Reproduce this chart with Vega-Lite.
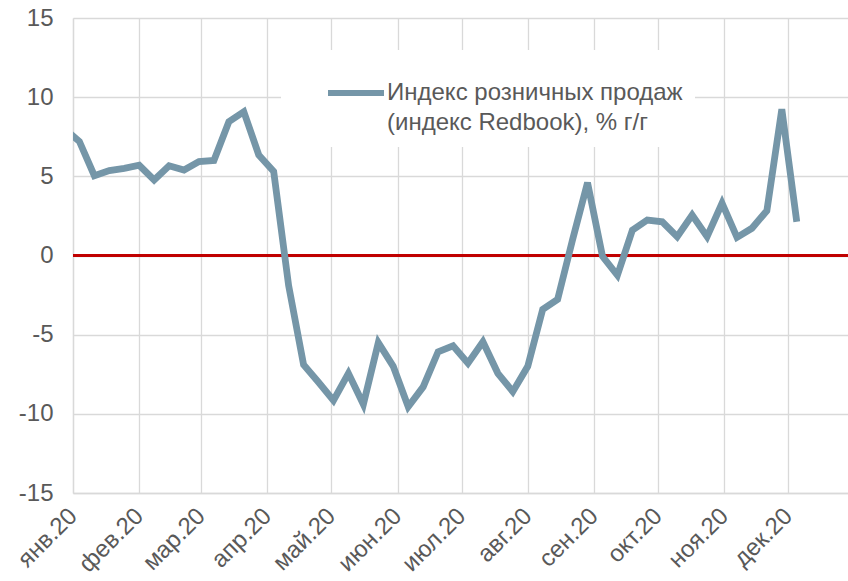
{
  "$schema": "https://vega.github.io/schema/vega-lite/v6.json",
  "autosize": "none",
  "width": 775,
  "height": 475,
  "padding": {"left": 73, "top": 18, "right": 0, "bottom": 88},
  "background": "white",
  "config": {
    "view": {"stroke": null},
    "font": "Liberation Sans",
    "axis": {"labelFont": "Liberation Sans", "labelColor": "#595959", "labelFontSize": 24, "gridColor": "#d9d9d9", "gridWidth": 1.3, "domainColor": "#d9d9d9", "domainWidth": 1.3, "ticks": false, "title": null}
  },
  "data": {
    "values": [
      {"date": "2019/12/28", "value": 8.0},
      {"date": "2020/01/04", "value": 7.2},
      {"date": "2020/01/11", "value": 5.04},
      {"date": "2020/01/18", "value": 5.36},
      {"date": "2020/01/25", "value": 5.5},
      {"date": "2020/02/01", "value": 5.7},
      {"date": "2020/02/08", "value": 4.77},
      {"date": "2020/02/15", "value": 5.67},
      {"date": "2020/02/22", "value": 5.4},
      {"date": "2020/02/29", "value": 5.93},
      {"date": "2020/03/07", "value": 6.0},
      {"date": "2020/03/14", "value": 8.45},
      {"date": "2020/03/21", "value": 9.08},
      {"date": "2020/03/28", "value": 6.35},
      {"date": "2020/04/04", "value": 5.3},
      {"date": "2020/04/11", "value": -1.9},
      {"date": "2020/04/18", "value": -6.9},
      {"date": "2020/04/25", "value": -8.0},
      {"date": "2020/05/02", "value": -9.15},
      {"date": "2020/05/09", "value": -7.44},
      {"date": "2020/05/16", "value": -9.4},
      {"date": "2020/05/23", "value": -5.5},
      {"date": "2020/05/30", "value": -7.0},
      {"date": "2020/06/06", "value": -9.55},
      {"date": "2020/06/13", "value": -8.3},
      {"date": "2020/06/20", "value": -6.08},
      {"date": "2020/06/27", "value": -5.7},
      {"date": "2020/07/04", "value": -6.8},
      {"date": "2020/07/11", "value": -5.45},
      {"date": "2020/07/18", "value": -7.44},
      {"date": "2020/07/25", "value": -8.6},
      {"date": "2020/08/01", "value": -7.0},
      {"date": "2020/08/08", "value": -3.4},
      {"date": "2020/08/15", "value": -2.77},
      {"date": "2020/08/22", "value": 1.0},
      {"date": "2020/08/29", "value": 4.6},
      {"date": "2020/09/05", "value": -0.05},
      {"date": "2020/09/12", "value": -1.25},
      {"date": "2020/09/19", "value": 1.6},
      {"date": "2020/09/26", "value": 2.24},
      {"date": "2020/10/03", "value": 2.13},
      {"date": "2020/10/10", "value": 1.19},
      {"date": "2020/10/17", "value": 2.56},
      {"date": "2020/10/24", "value": 1.19},
      {"date": "2020/10/31", "value": 3.3},
      {"date": "2020/11/07", "value": 1.15},
      {"date": "2020/11/14", "value": 1.72},
      {"date": "2020/11/21", "value": 2.83},
      {"date": "2020/11/28", "value": 9.24},
      {"date": "2020/12/05", "value": 2.13}
    ]
  },
  "layer": [
    {
      "mark": {"type": "rule", "color": "#c00000", "strokeWidth": 1.5},
      "encoding": {"y": {"datum": 0}, "color": {"value": "#c00000"}}
    },
    {
      "mark": {"type": "line", "strokeWidth": 6.8, "strokeJoin": "miter", "strokeCap": "butt", "clip": true},
      "encoding": {
        "x": {
          "field": "date", "type": "temporal",
          "scale": {"domain": [{"year": 2020, "month": 1, "date": 1}, {"year": 2020, "month": 12, "date": 29}]},
          "axis": {
            "values": [
              {"year": 2020, "month": 1, "date": 1}, {"year": 2020, "month": 2, "date": 1}, {"year": 2020, "month": 3, "date": 1},
              {"year": 2020, "month": 4, "date": 1}, {"year": 2020, "month": 5, "date": 1}, {"year": 2020, "month": 6, "date": 1},
              {"year": 2020, "month": 7, "date": 1}, {"year": 2020, "month": 8, "date": 1}, {"year": 2020, "month": 9, "date": 1},
              {"year": 2020, "month": 10, "date": 1}, {"year": 2020, "month": 11, "date": 1}, {"year": 2020, "month": 12, "date": 1}
            ],
            "labelExpr": "['янв','фев','мар','апр','май','июн','июл','авг','сен','окт','ноя','дек'][month(datum.value)] + '.20'",
            "labelAngle": -45,
            "labelAlign": "right",
            "labelBaseline": "middle",
            "labelPadding": 19,
            "labelOverlap": false,
            "labelBound": false,
            "labelFlush": false,
            "grid": true
          }
        },
        "y": {
          "field": "value", "type": "quantitative",
          "scale": {"domain": [-15, 15], "nice": false},
          "axis": {"values": [-15, -10, -5, 0, 5, 10, 15], "grid": true, "labelPadding": 20, "labelExpr": "'' + datum.value"}
        },
        "color": {
          "datum": "Индекс розничных продаж",
          "type": "nominal",
          "scale": {"range": ["#7596a8"]},
          "legend": {
            "orient": "none",
            "legendX": 208,
            "legendY": 32,
            "title": null,
            "fillColor": "white",
            "padding": 12,
            "symbolOffset": 32,
            "symbolType": "stroke",
            "symbolSize": 3136,
            "symbolStrokeWidth": 6,
            "labelFont": "Liberation Sans",
            "labelFontSize": 24,
            "labelColor": "#595959",
            "labelLimit": 500,
            "labelOffset": 0,
            "labelExpr": "['Индекс розничных продаж', '(индекс Redbook), % г/г']",
            "encode": {"labels": {"update": {"lineHeight": {"value": 30}}}}
          }
        }
      }
    }
  ]
}
